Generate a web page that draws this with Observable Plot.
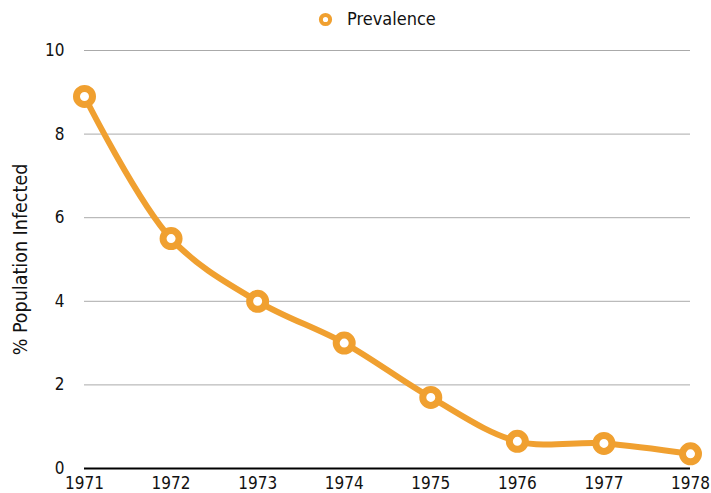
<!DOCTYPE html>
<html><head><meta charset="utf-8">
<script src="https://cdn.jsdelivr.net/npm/d3@7"></script>
<script src="https://cdn.jsdelivr.net/npm/@observablehq/plot@0.6"></script>
<style>
body{margin:0;background:#fff;font-family:"DejaVu Sans Condensed","DejaVu Sans",sans-serif;font-stretch:condensed;overflow:hidden}
#legend{height:38px;position:relative;font-size:18px;color:#111}
#legend svg{position:absolute;left:318px;top:12px}
#legend span{position:absolute;left:347px;top:8px;line-height:22px}
#chart svg text{font-stretch:condensed}
</style></head><body>
<div id="legend"><svg width="15" height="15"><circle cx="7.5" cy="7.5" r="4.6" fill="#fff" stroke="#f0a030" stroke-width="4"/></svg><span>Prevalence</span></div>
<div id="chart"></div>
<script>
const years = [1971,1972,1973,1974,1975,1976,1977,1978];
const prevalence = [8.9,5.5,4.0,3.0,1.7,0.65,0.6,0.35];
const yTicks = [0,2,4,6,8,10];
const data = years.map((y,i)=>({year:y, value:prevalence[i]}));
const color = "#f0a030";
const chart = Plot.plot({
  width:711, height:455,
  marginLeft:84, marginRight:21, marginTop:12, marginBottom:25,
  style:{fontFamily:"'DejaVu Sans Condensed', 'DejaVu Sans', sans-serif", fontSize:"17px", color:"#111", overflow:"visible"},
  x:{domain:[1971,1978]},
  y:{domain:[0,10]},
  marks:[
    Plot.gridY(yTicks.filter(d=>d>0), {stroke:"#aaa", strokeOpacity:1, strokeWidth:1}),
    Plot.ruleY([0], {stroke:"#000", strokeWidth:2}),
    Plot.axisX({ticks:years, tickFormat:d=>String(d), tickSize:0, tickPadding:8, fontSize:17, label:null}),
    Plot.axisY({ticks:yTicks, tickSize:0, tickPadding:20, fontSize:17, label:null}),
    Plot.text(["% Population Infected"], {frameAnchor:"left", dx:-64, rotate:-90, fontSize:19.5, textAnchor:"middle", fill:"#111"}),
    Plot.line(data, {x:"year", y:"value", stroke:color, strokeWidth:6, curve:"catmull-rom"}),
    Plot.dot(data, {x:"year", y:"value", r:8, fill:"#fff", stroke:color, strokeWidth:7})
  ]
});
document.getElementById("chart").appendChild(chart);
</script>
</body></html>
